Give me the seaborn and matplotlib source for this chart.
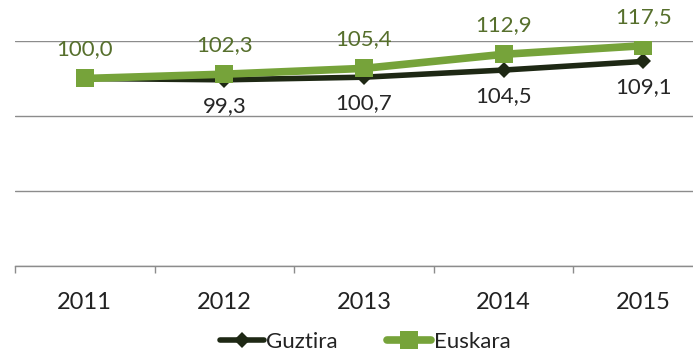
import matplotlib
matplotlib.use("Agg")
import matplotlib.pyplot as plt
import seaborn as sns
import pandas as pd

# chart values
years = ["2011", "2012", "2013", "2014", "2015"]
guztira = [100.0, 99.3, 100.7, 104.5, 109.1]
euskara = [100.0, 102.3, 105.4, 112.9, 117.5]

sns.set_theme(style="white")
plt.rcParams["font.family"] = ["Lato", "DejaVu Sans"]

pos = list(range(len(years)))
df = pd.DataFrame({"pos": pos * 2,
                   "value": guztira + euskara,
                   "serie": ["Guztira"] * len(years) + ["Euskara"] * len(years)})

fig = plt.figure(figsize=(6.93, 3.56), dpi=100)
# plot area runs a bit past the right edge, as in the reference crop
ax = fig.add_axes([15 / 693, 90 / 356, 698 / 693, 225 / 356])

dark = "#1e2814"
green = "#76a33a"

sns.lineplot(data=df[df.serie == "Guztira"], x="pos", y="value", ax=ax,
             color=dark, linewidth=4, marker="D", markersize=8,
             markeredgewidth=0, label="Guztira")
sns.lineplot(data=df[df.serie == "Euskara"], x="pos", y="value", ax=ax,
             color=green, linewidth=5.5, marker="s", markersize=13,
             markeredgewidth=0, label="Euskara")

# data labels (the first Guztira label is hidden under the Euskara one)
for x, v in zip(pos, euskara):
    ax.annotate(f"{v:.1f}".replace(".", ","), (x, v), xytext=(0, 29),
                textcoords="offset pixels", ha="center", va="center",
                fontsize=16, color="#566f2c")
for x, v in zip(pos[1:], guztira[1:]):
    ax.annotate(f"{v:.1f}".replace(".", ","), (x, v), xytext=(0, -26),
                textcoords="offset pixels", ha="center", va="center",
                fontsize=16, color="#262626")

ax.set_ylim(0, 120)
ax.set_yticks([0, 40, 80, 120])
ax.set_yticklabels([])
ax.yaxis.grid(True, color="#8c8c8c", linewidth=1)
ax.set_xlim(-0.5, len(years) - 0.5)
ax.set_xticks(pos)
ax.set_xticklabels(years, fontsize=17, color="#222222")
ax.set_xticks([p - 0.5 for p in range(len(years) + 1)], minor=True)
ax.tick_params(axis="x", which="major", length=0, pad=19)
ax.tick_params(axis="x", which="minor", length=5, color="#8c8c8c", width=1,
               bottom=True)
ax.tick_params(axis="y", length=0)
ax.set_xlabel("")
ax.set_ylabel("")
for s in ["left", "right", "top"]:
    ax.spines[s].set_visible(False)
ax.spines["bottom"].set_color("#8c8c8c")
ax.spines["bottom"].set_linewidth(1)

leg = ax.legend(loc="center", bbox_to_anchor=(365 / 693, 14 / 356),
                bbox_transform=fig.transFigure, ncol=2, frameon=False,
                fontsize=16, handlelength=2.0, handletextpad=0.1,
                columnspacing=2.2, borderpad=0)
for t in leg.get_texts():
    t.set_color("#222222")

fig.savefig("out.png", dpi=100)
